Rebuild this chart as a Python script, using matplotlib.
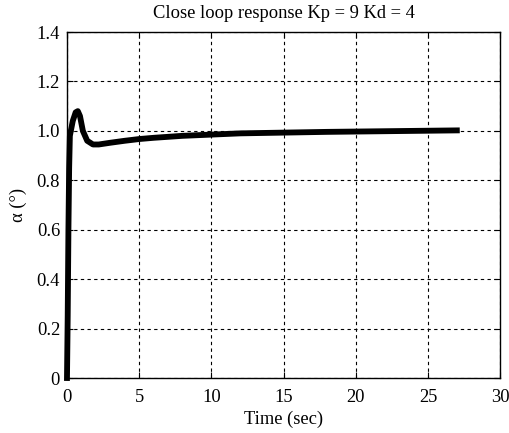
import matplotlib
matplotlib.use("Agg")
import matplotlib.pyplot as plt

time_s = [0, 0.05, 0.1, 0.15, 0.2, 0.4, 0.6, 0.75, 0.9, 1.1, 1.4, 1.8, 2.2, 3, 4, 5, 6, 8, 10, 12, 15, 18, 21, 24, 27]
alpha = [0, 0.25, 0.6, 0.85, 0.98, 1.04, 1.075, 1.08, 1.06, 1.0, 0.96, 0.945, 0.945, 0.952, 0.96, 0.967, 0.972, 0.98, 0.985, 0.99, 0.993, 0.996, 0.998, 1.0, 1.002]
x_ticks = [0, 5, 10, 15, 20, 25, 30]
y_ticks = [0, 0.2, 0.4, 0.6, 0.8, 1.0, 1.2, 1.4]
y_ticklabels = ["0", "0.2", "0.4", "0.6", "0.8", "1.0", "1.2", "1.4"]

plt.rcParams['font.family'] = ['Liberation Serif', 'DejaVu Serif']
fs = 13.3

fig = plt.figure(figsize=(5.09, 4.33), dpi=100)
ax = fig.add_axes([0.1316, 0.127, 0.851, 0.799])
ax.plot(time_s, alpha, color='black', linewidth=4.2, solid_joinstyle='round', clip_on=False)
ax.set_xlim(0, 30)
ax.set_ylim(0, 1.4)
ax.set_xticks(x_ticks)
ax.set_yticks(y_ticks)
ax.set_yticklabels(y_ticklabels)
ax.grid(True, color='black', linestyle=(0, (3, 3)), linewidth=0.8)
ax.tick_params(direction='in', top=True, right=True, labelsize=fs, length=4, width=0.8)
ax.tick_params(axis='x', pad=8)
ax.tick_params(axis='y', pad=5)
for s in ax.spines.values():
    s.set_linewidth(1.0)
ax.set_title("Close loop response Kp = 9 Kd = 4", fontsize=fs, pad=10)
ax.set_xlabel("Time (sec)", fontsize=fs, labelpad=3)
ax.set_ylabel("α (°)", fontsize=fs, labelpad=7)
fig.savefig("out.png", dpi=100)
